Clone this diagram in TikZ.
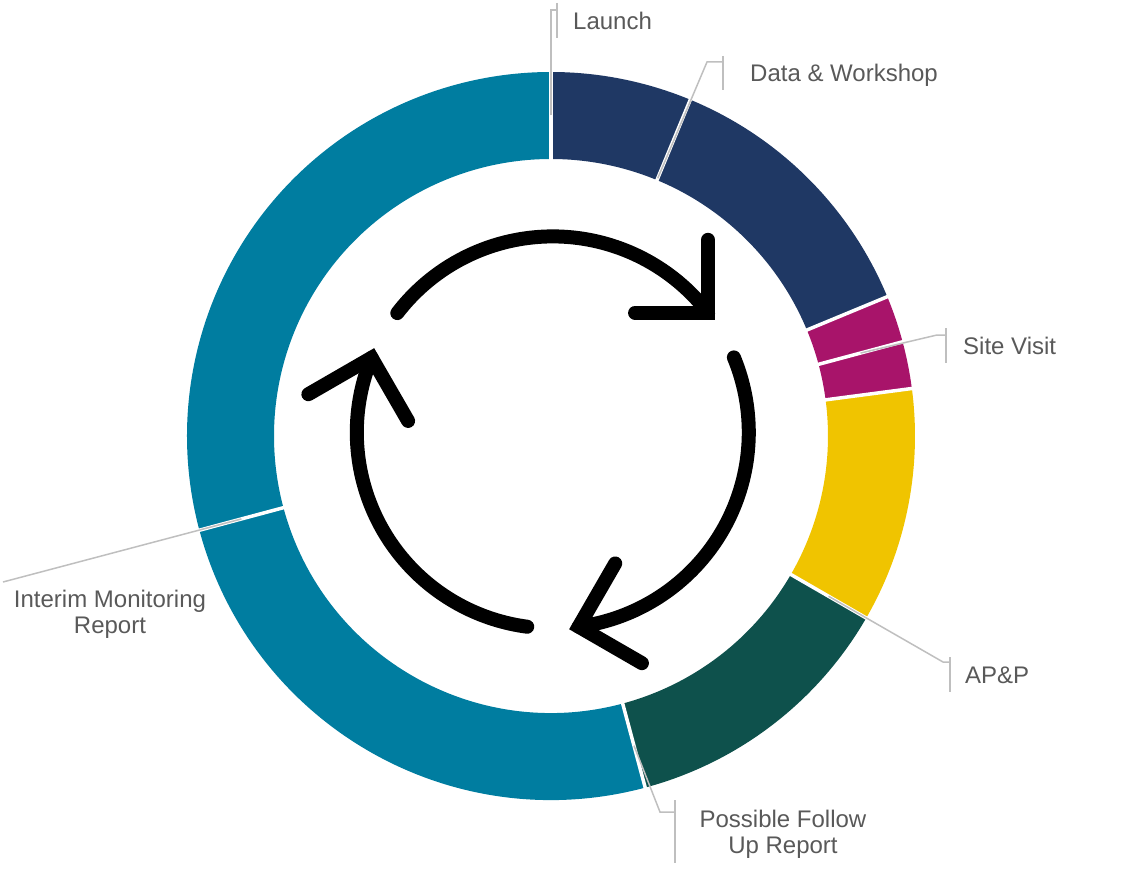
\documentclass[tikz,border=0pt]{standalone}
\usepackage{fontspec}
\setmainfont{Liberation Sans}
\usetikzlibrary{positioning}

\definecolor{cnavy}{RGB}{31,56,100}
\definecolor{cmagenta}{RGB}{168,20,106}
\definecolor{cyellow}{RGB}{240,196,0}
\definecolor{cgreen}{RGB}{14,81,76}
\definecolor{cteal}{RGB}{0,125,160}
\definecolor{lgray}{RGB}{191,191,191}
\definecolor{tgray}{RGB}{89,89,89}

\begin{document}
\begin{tikzpicture}[x=1pt,y=1pt,
	gap/.style={white,line width=3.5pt},
	leader/.style={draw=lgray,line width=1.5pt},
	lbl/.style={text=tgray,font=\fontsize{24}{26.5}\selectfont,inner sep=0pt},
	cyc/.style={line width=14pt,line cap=round,line join=round},
	chev/.style={line width=14pt,line cap=round,line join=miter},]
	\useasboundingbox (-551,-448) rectangle (571,436);
	% ring segments (degrees clockwise from top)
	\foreach \a/\b/\c in {0/22.5/cnavy,22.5/67.5/cnavy,67.5/75/cmagenta,75/82.5/cmagenta,82.5/120/cyellow,120/165/cgreen,165/255/cteal,255/360/cteal}
		\fill[\c] ({90-\a}:364) arc[start angle=90-\a,end angle=90-\b,radius=364] -- ({90-\b}:277) arc[start angle=90-\b,end angle=90-\a,radius=277] -- cycle;
	\foreach \a in {0,22.5,67.5,75,82.5,120,165,255}
		\draw[gap] ({90-\a}:275) -- ({90-\a}:367);
	% cycle arrows
	\begin{scope}[shift={(1.8,3.6)}]
		\foreach \r in {0,120,240}{
			\draw[cyc] ({142.5-\r}:196) arc[start angle=142.5-\r,end angle=37.6-\r,radius=196] coordinate (tip\r);
			\draw[chev] ([shift={({90-\r}:73)}]tip\r) -- (tip\r) -- ([shift={({180-\r}:73)}]tip\r);
		}
	\end{scope}
	% create the labels
	\node[lbl,anchor=base west] (launch) at (22,406) {Launch};
	\node[lbl,anchor=base west] (data) at (199,354) {Data \& Workshop};
	\node[lbl,anchor=base west] (site) at (412,82) {Site Visit};
	\node[lbl,anchor=base west] (app) at (414,-247) {AP\&P};
	\node[lbl,anchor=north,align=center] (follow) at (232,-373.8) {Possible Follow\\Up Report};
	\node[lbl,anchor=north,align=center] (interim) at (-441,-153.8) {Interim Monitoring\\Report};
	% leader points
	\coordinate (launchPt) at (90:320.5);
	\coordinate (launchBend) at (0,426);
	\coordinate (launchBar) at (6,426);
	\coordinate (dataPt) at (67.5:279);
	\coordinate (dataBend) at (156,374);
	\coordinate (dataBar) at (172,374);
	\coordinate (sitePt) at (15:320.5);
	\coordinate (siteBend) at (386,101);
	\coordinate (siteBar) at (395,101);
	\coordinate (appPt) at (-30:320.5);
	\coordinate (appBend) at (392,-226);
	\coordinate (appBar) at (399,-226);
	\coordinate (followPt) at (-75:320.5);
	\coordinate (followBend) at (109,-376);
	\coordinate (followBar) at (124,-376);
	\coordinate (interimPt) at (-165:320.5);
	\coordinate (interimEnd) at (-548,-146);
	% leader lines
	\draw[leader] (launchPt) -- (launchBend) -- (launchBar);
	\draw[leader] (6,433) -- (6,398);
	\draw[leader] (dataPt) -- (dataBend) -- (dataBar);
	\draw[leader] (172,380) -- (172,346);
	\draw[leader] (sitePt) -- (siteBend) -- (siteBar);
	\draw[leader] (395,108) -- (395,73);
	\draw[leader] (appPt) -- (appBend) -- (appBar);
	\draw[leader] (399,-221) -- (399,-256);
	\draw[leader] (followPt) -- (followBend) -- (followBar);
	\draw[leader] (124,-364) -- (124,-427);
	\draw[leader] (interimPt) -- (interimEnd);
\end{tikzpicture}
\end{document}
